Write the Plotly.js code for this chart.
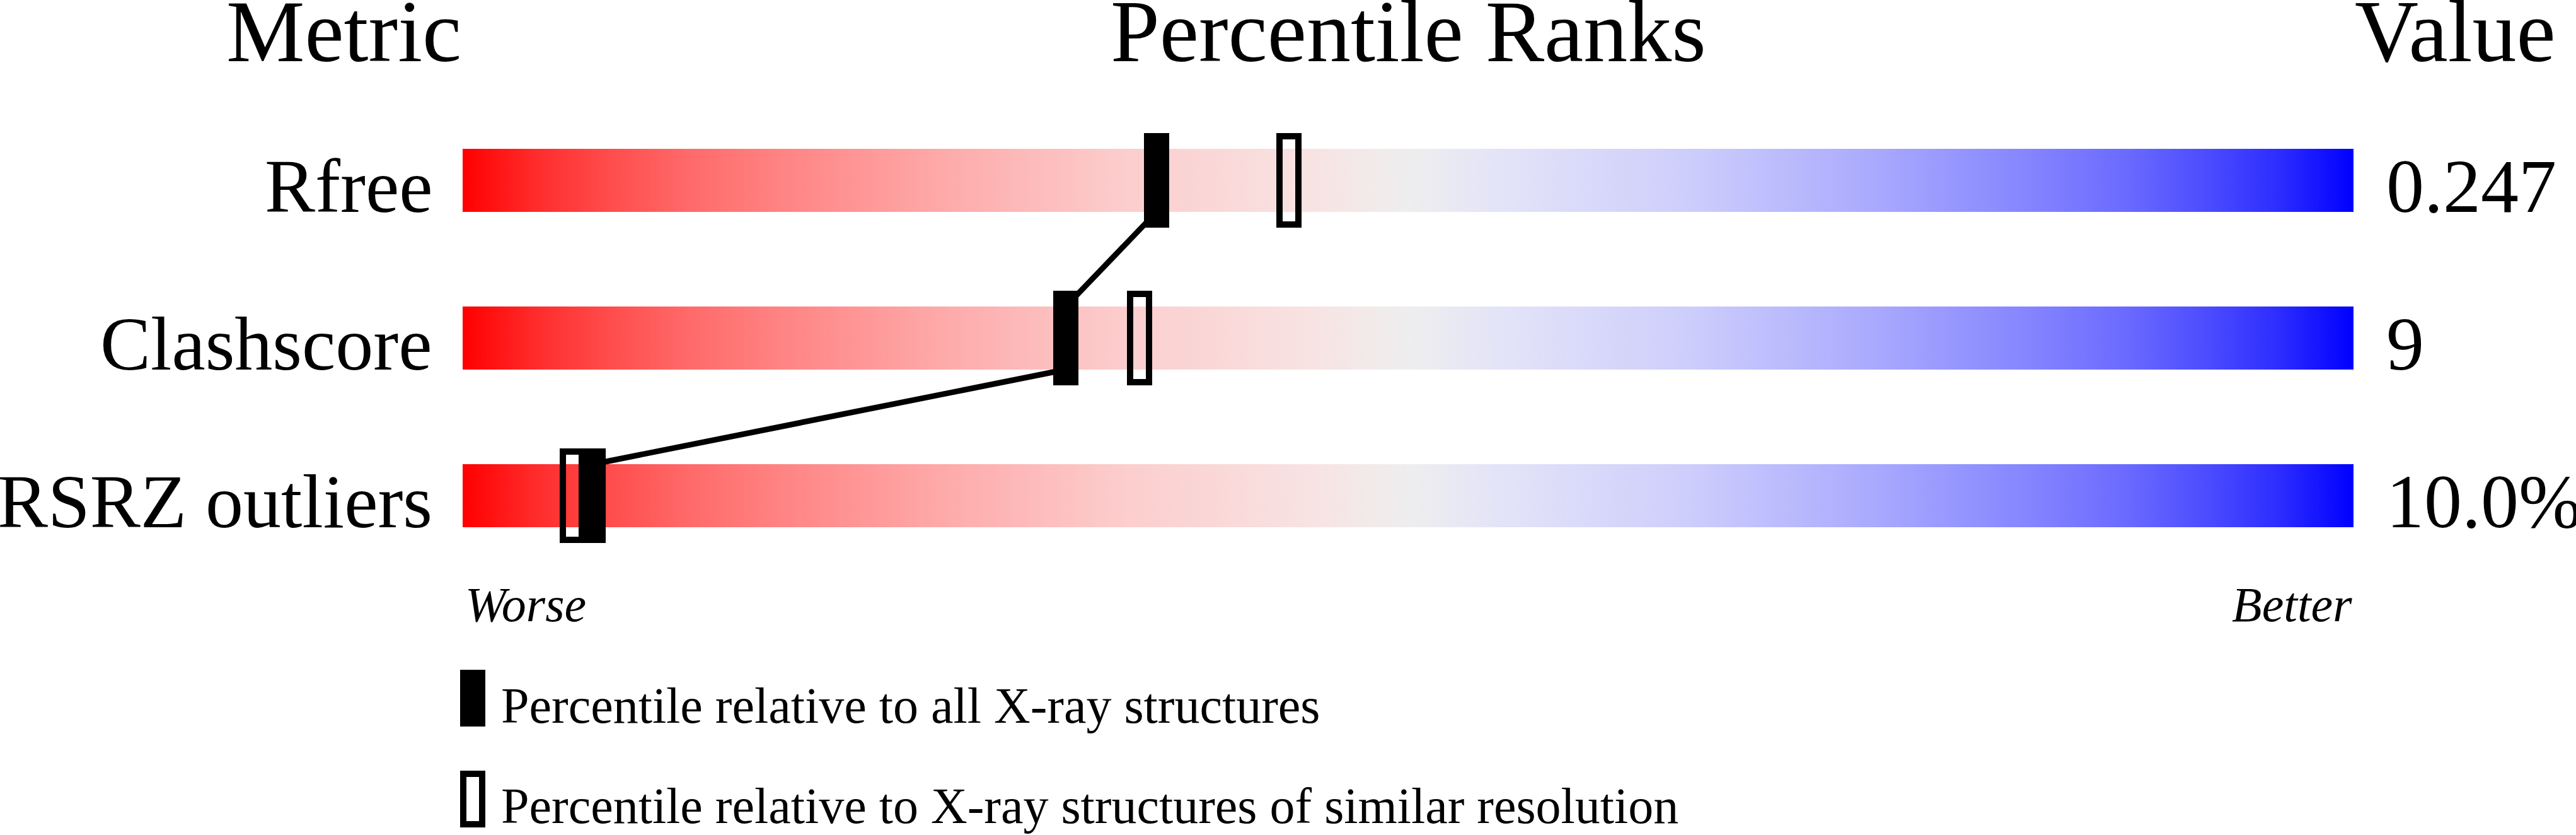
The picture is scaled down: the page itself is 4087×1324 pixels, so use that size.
<!DOCTYPE html>
<html>
<head>
<meta charset="utf-8">
<script src="https://cdn.plot.ly/plotly-3.0.1.min.js"></script>
<style>html,body{margin:0;padding:0;background:#fff;}#chart{width:4087px;height:1324px;}</style>
</head>
<body>
<div id="chart"></div>
<script>
// ---- data ----
const metrics = ['Rfree', 'Clashscore', 'RSRZ outliers'];
const metricValues = ['0.247', '9', '10.0%'];
const pctAllXray = [36.7, 31.9, 6.9];        // filled markers
const pctSimilarRes = [43.7, 35.8, 5.8];     // open markers
const headers = ['Metric', 'Percentile Ranks', 'Value'];
const scaleEnds = ['Worse', 'Better'];
const legendLabels = ['Percentile relative to all X-ray structures',
                      'Percentile relative to X-ray structures of similar resolution'];

// ---- style ----
const FONT = 'Liberation Serif, Times New Roman, serif';
const W = 4087, H = 1324;
const ML = 734, MR = 353, MT = 161, MB = 413;
const PW = W - ML - MR, PH = H - MT - MB;
const barHalf = 0.2;
const gradient = [
  [0.00, 'rgb(255,0,0)'],
  [0.04, 'rgb(255,45,45)'],
  [0.08, 'rgb(255,78,78)'],
  [0.12, 'rgb(255,106,106)'],
  [0.17, 'rgb(255,132,132)'],
  [0.25, 'rgb(254,168,168)'],
  [0.35, 'rgb(252,205,205)'],
  [0.45, 'rgb(248,227,227)'],
  [0.50, 'rgb(238,238,238)'],
  [0.55, 'rgb(227,227,248)'],
  [0.65, 'rgb(205,205,252)'],
  [0.75, 'rgb(168,168,254)'],
  [0.83, 'rgb(132,132,255)'],
  [0.88, 'rgb(106,106,255)'],
  [0.92, 'rgb(78,78,255)'],
  [0.96, 'rgb(45,45,255)'],
  [1.00, 'rgb(0,0,255)']
];
const pyPaper = p => (MT + PH - p) / PH;
const pxPaper = p => (p - ML) / PW;

const traces = [];
metrics.forEach((m, i) => {
  traces.push({
    type: 'scatter', mode: 'lines',
    x: [0, 100, 100, 0, 0],
    y: [i - barHalf, i - barHalf, i + barHalf, i + barHalf, i - barHalf],
    fill: 'toself',
    line: {width: 0, color: 'rgba(0,0,0,0)'},
    fillgradient: {type: 'horizontal', colorscale: gradient, start: 0, stop: 100},
    hoverinfo: 'skip', showlegend: false
  });
});
// connecting line between filled markers
const lx = [], ly = [];
for (let i = 0; i < metrics.length - 1; i++) {
  lx.push(pctAllXray[i], pctAllXray[i + 1]);
  ly.push(i + barHalf, i + 1 - barHalf);
}
traces.push({
  type: 'scatter', mode: 'lines', x: lx, y: ly,
  line: {color: 'black', width: 9},
  hoverinfo: 'skip', showlegend: false
});

const shapes = [];
metrics.forEach((m, i) => {
  shapes.push({
    type: 'rect', xref: 'x', yref: 'y', layer: 'above',
    xsizemode: 'pixel', xanchor: pctSimilarRes[i], x0: -15, x1: 15,
    ysizemode: 'pixel', yanchor: i, y0: -70, y1: 70,
    line: {color: 'black', width: 10}, fillcolor: 'rgba(0,0,0,0)'
  });
  shapes.push({
    type: 'rect', xref: 'x', yref: 'y', layer: 'above',
    xsizemode: 'pixel', xanchor: pctAllXray[i], x0: -20, x1: 20,
    ysizemode: 'pixel', yanchor: i, y0: -75, y1: 75,
    line: {width: 0}, fillcolor: 'black'
  });
});
// legend swatches
shapes.push({type: 'rect', xref: 'paper', yref: 'paper', layer: 'above',
  x0: pxPaper(730), x1: pxPaper(770), y0: pyPaper(1152), y1: pyPaper(1062),
  line: {width: 0}, fillcolor: 'black'});
shapes.push({type: 'rect', xref: 'paper', yref: 'paper', layer: 'above',
  x0: pxPaper(735), x1: pxPaper(765), y0: pyPaper(1307), y1: pyPaper(1227),
  line: {color: 'black', width: 10}, fillcolor: 'rgba(0,0,0,0)'});

const ann = [];
const hdrFont = {family: FONT, size: 140, color: 'black'};
ann.push({text: headers[0], xref: 'x', x: 0, xanchor: 'right', yref: 'paper', y: pyPaper(49), yanchor: 'middle', showarrow: false, font: hdrFont});
ann.push({text: headers[1], xref: 'x', x: 50, xanchor: 'center', yref: 'paper', y: pyPaper(49), yanchor: 'middle', showarrow: false, font: hdrFont});
ann.push({text: headers[2], xref: 'x', x: 100, xanchor: 'left', yref: 'paper', y: pyPaper(49), yanchor: 'middle', showarrow: false, font: hdrFont});
const rowFont = {family: FONT, size: 120, color: 'black'};
metrics.forEach((m, i) => {
  ann.push({text: m, xref: 'x', x: 0, xanchor: 'right', xshift: -46, yref: 'y', y: i, yanchor: 'middle', yshift: -9.5, showarrow: false, font: rowFont});
  ann.push({text: metricValues[i], xref: 'x', x: 100, xanchor: 'left', xshift: 50, yref: 'y', y: i, yanchor: 'middle', yshift: -9.5, showarrow: false, font: rowFont});
});
const endFont = {family: FONT, size: 78, color: 'black', style: 'italic'};
ann.push({text: scaleEnds[0], xref: 'x', x: 0, xanchor: 'left', xshift: 2, yref: 'paper', y: pyPaper(958), yanchor: 'middle', showarrow: false, font: endFont});
ann.push({text: scaleEnds[1], xref: 'x', x: 100, xanchor: 'right', yref: 'paper', y: pyPaper(958), yanchor: 'middle', showarrow: false, font: endFont});
const legFont = {family: FONT, size: 80, color: 'black'};
ann.push({text: legendLabels[0], xref: 'paper', x: pxPaper(793), xanchor: 'left', yref: 'paper', y: pyPaper(1119), yanchor: 'middle', showarrow: false, font: legFont});
ann.push({text: legendLabels[1], xref: 'paper', x: pxPaper(793), xanchor: 'left', yref: 'paper', y: pyPaper(1278), yanchor: 'middle', showarrow: false, font: legFont});

const layout = {
  width: W, height: H,
  margin: {l: ML, r: MR, t: MT, b: MB, pad: 0},
  paper_bgcolor: 'white', plot_bgcolor: 'white',
  showlegend: false,
  xaxis: {range: [0, 100], visible: false, fixedrange: true},
  yaxis: {range: [metrics.length - 0.5, -0.5], visible: false, fixedrange: true},
  shapes: shapes,
  annotations: ann,
  hovermode: false
};
Plotly.newPlot('chart', traces, layout, {staticPlot: true, displayModeBar: false});
</script>
</body>
</html>
